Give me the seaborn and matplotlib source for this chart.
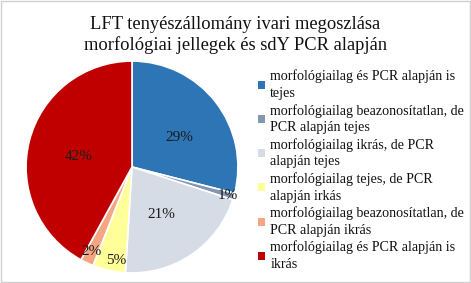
import matplotlib
matplotlib.use("Agg")
import matplotlib.pyplot as plt
import seaborn as sns
from matplotlib.patches import Rectangle, Patch

sns.set_theme(style="white")
plt.rcParams['font.family'] = ['Liberation Serif', 'DejaVu Serif']

labels = [
    "morfológiailag és PCR alapján is\ntejes",
    "morfológiailag beazonosítatlan, de\nPCR alapján tejes",
    "morfológiailag ikrás, de PCR\nalapján tejes",
    "morfológiailag tejes, de PCR\nalapján irkás",
    "morfológiailag beazonosítatlan, de\nPCR alapján ikrás",
    "morfológiailag és PCR alapján is\nikrás",
]
values = [29, 1, 21, 5, 2, 42]
pct_labels = ["29%", "1%", "21%", "5%", "2%", "42%"]
colors = ["#2E75B6", "#8497B0", "#D6DCE5", "#FFFF99", "#F4A582", "#C00000"]

fig = plt.figure(figsize=(4.71, 2.83), dpi=100)
ax = fig.add_axes([25 / 471, 9 / 283, 214 / 471, 214 / 283])
wedges, _ = ax.pie(values, colors=colors, startangle=90, counterclock=False,
                   wedgeprops=dict(edgecolor="white", linewidth=1.2))
ax.set_xlim(-1.01, 1.01)
ax.set_ylim(-1.01, 1.01)
ax.set_aspect("equal")

label_pos = [(0.45, 0.28), (0.9, -0.27), (0.28, -0.45), (-0.15, -0.88), (-0.38, -0.8), (-0.5, 0.1)]
for (x, y), t in zip(label_pos, pct_labels):
    ax.text(x, y, t, ha="center", va="center", fontsize=11, color="#1a1a1a")

fig.text(0.5, 1 - 35 / 283, "LFT tenyészállomány ivari megoszlása\nmorfológiai jellegek és sdY PCR alapján",
         ha="center", va="center", fontsize=13.3, linespacing=1.25, color="#111111")

handles = [Patch(facecolor=c, edgecolor="none") for c in colors]
leg = fig.legend(handles, labels, loc="upper left", bbox_to_anchor=(0.535, 1 - 64 / 283),
                 frameon=False, fontsize=10.1, handlelength=0.5, handleheight=0.5,
                 handletextpad=0.4, labelspacing=0.28, borderaxespad=0)
for t in leg.get_texts():
    t.set_linespacing(1.35)
    t.set_color("#111111")

fig.patches.append(Rectangle((0.003, 0.005), 0.994, 0.99, transform=fig.transFigure,
                             fill=False, edgecolor="#d0d0d0", linewidth=1))
fig.savefig("out.png", dpi=100)
